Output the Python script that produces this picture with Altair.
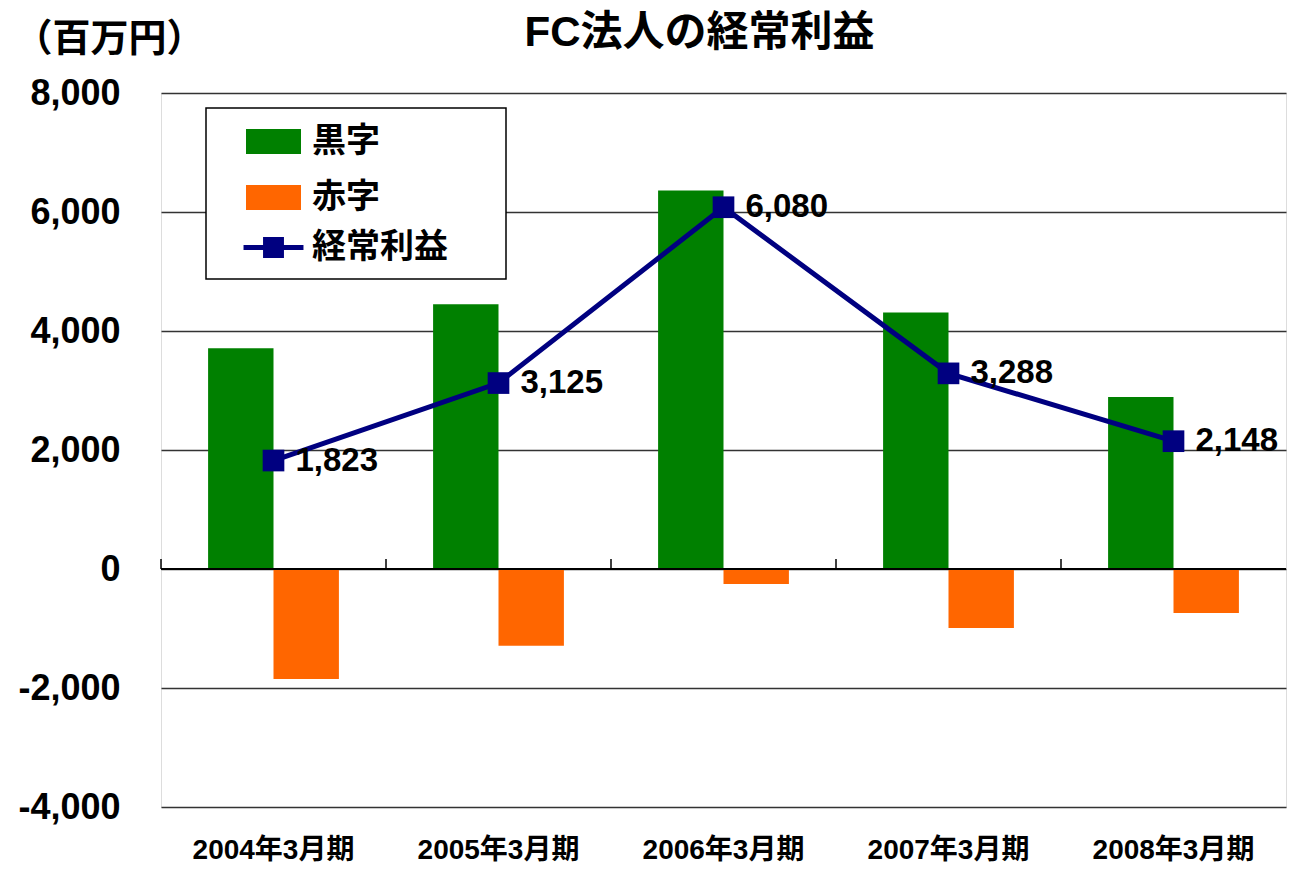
import altair as alt
import pandas as pd

categories = ["2004年3月期", "2005年3月期", "2006年3月期", "2007年3月期", "2008年3月期"]
surplus = [3710, 4450, 6360, 4310, 2890]        # 黒字
deficit = [-1850, -1290, -250, -990, -740]      # 赤字
ordinary = [1823, 3125, 6080, 3288, 2148]       # 経常利益
bar_names = ["黒字", "赤字"]
bar_colors = ["#008000", "#FF6600"]
line_name = "経常利益"
line_color = "#000080"
y_ticks = [-4000, -2000, 0, 2000, 4000, 6000, 8000]

LAT = 'Liberation Sans, "Noto Sans CJK JP", sans-serif'
CJK = '"Noto Sans CJK JP", sans-serif'

bars_df = pd.DataFrame(
    [{"cat": c, "series": "黒字", "value": v} for c, v in zip(categories, surplus)]
    + [{"cat": c, "series": "赤字", "value": v} for c, v in zip(categories, deficit)]
)
line_df = pd.DataFrame({"cat": categories, "value": ordinary, "series": line_name})
cat_df = pd.DataFrame({"cat": categories})

xscale = alt.Scale(domain=categories, paddingInner=0, paddingOuter=0)
yscale = alt.Scale(domain=[-4000, 8000], nice=False, zero=False)

x_axis = alt.Axis(title=None, labelAngle=0, labelFont=LAT, labelFontSize=28,
                  labelFontWeight="bold", labelColor="black", domain=False,
                  ticks=False, tickSize=0, labelPadding=29, grid=False)
y_axis = alt.Axis(values=y_ticks,
                  labelExpr="replace(format(datum.value, ',.0f'), '\u2212', '-')",
                  labelFont=LAT, labelFontSize=36,
                  labelFontWeight="bold", labelColor="black", domain=False,
                  ticks=False, tickSize=0, labelPadding=41, grid=True,
                  gridColor="#333333", gridWidth=1.5,
                  title="（百万円）", titleAngle=0, titleX=-52, titleY=-54,
                  titleAlign="center", titleBaseline="middle", titleFont=CJK,
                  titleFontSize=38, titleFontWeight="bold", titleColor="black")

swatch = "M-1,-0.4545H1V0.4545H-1Z"
linesym = ("M-1.09,-0.09H-0.38V-0.38H0.38V-0.09H1.09V0.09H0.38V0.38"
           "H-0.38V0.09H-1.09Z")

common_legend = dict(
    title=None, orient="none", direction="vertical", symbolSize=3025,
    symbolStrokeWidth=0, labelFont=CJK, labelFontSize=34, labelFontWeight="bold",
    labelColor="black", labelOffset=11, padding=0, labelLimit=400,
    symbolOpacity=1,
)

bars = alt.Chart(bars_df).mark_bar().encode(
    x=alt.X("cat:N", scale=xscale, axis=x_axis, sort=categories),
    xOffset=alt.XOffset("series:N", scale=alt.Scale(domain=bar_names,
                                                    paddingInner=0, paddingOuter=0.72)),
    y=alt.Y("value:Q", scale=yscale, axis=y_axis),
    color=alt.Color("series:N", scale=alt.Scale(domain=bar_names, range=bar_colors),
                    legend=alt.Legend(legendX=85, legendY=21, symbolType=swatch,
                                      rowPadding=11, **common_legend)),
)

legend_box = alt.Chart(alt.Data(values=[{}])).mark_rect(
    fill="white", stroke="black", strokeWidth=1.5
).encode(x=alt.value(45), x2=alt.value(345), y=alt.value(15), y2=alt.value(186))

zero = alt.Chart(alt.Data(values=[{}])).mark_rule(color="black", strokeWidth=2).encode(
    y=alt.datum(0, scale=yscale)
)

ticks = alt.Chart(cat_df).mark_rule(color="black", strokeWidth=1.5, y2Offset=-10).encode(
    x=alt.X("cat:N", scale=xscale, bandPosition=0, sort=categories),
    y=alt.datum(0),
    y2=alt.datum(0),
)

line = alt.Chart(line_df).mark_line(color=line_color, strokeWidth=5).encode(
    x=alt.X("cat:N", scale=xscale, sort=categories),
    y=alt.Y("value:Q", scale=yscale),
)
points = alt.Chart(line_df).mark_point(
    shape="square", filled=True, size=470, color=line_color, opacity=1
).encode(
    x=alt.X("cat:N", scale=xscale, sort=categories),
    y=alt.Y("value:Q", scale=yscale),
)
line_legend_proxy = alt.Chart(line_df).mark_point(
    filled=True, color=line_color, opacity=0, size=1
).encode(
    x=alt.X("cat:N", scale=xscale, sort=categories),
    y=alt.Y("value:Q", scale=yscale),
    shape=alt.Shape("series:N", scale=alt.Scale(domain=[line_name], range=[linesym]),
                    legend=alt.Legend(legendX=85, legendY=127, rowPadding=0,
                                      **common_legend)),
)
labels = alt.Chart(line_df).mark_text(
    align="left", baseline="middle", dx=22, font=LAT, fontSize=33,
    fontWeight="bold", color="black"
).encode(
    x=alt.X("cat:N", scale=xscale, sort=categories),
    y=alt.Y("value:Q", scale=yscale),
    text=alt.Text("value:Q", format=","),
)

chart = alt.layer(bars, legend_box, zero, ticks, line, points, line_legend_proxy, labels).properties(
    width=1125, height=714,
    autosize=alt.AutoSizeParams(type="none"),
    padding={"left": 153, "top": 85, "right": 2, "bottom": 57},
    title=alt.TitleParams("FC法人の経常利益", font=LAT, fontSize=42, fontWeight="bold",
                          color="black", anchor="middle", frame="group", dx=-24,
                          offset=10, dy=45),
).configure_view(stroke="black", strokeWidth=2).configure(background="white")

chart.save("out.html", embed_options={"renderer": "svg", "actions": False})
